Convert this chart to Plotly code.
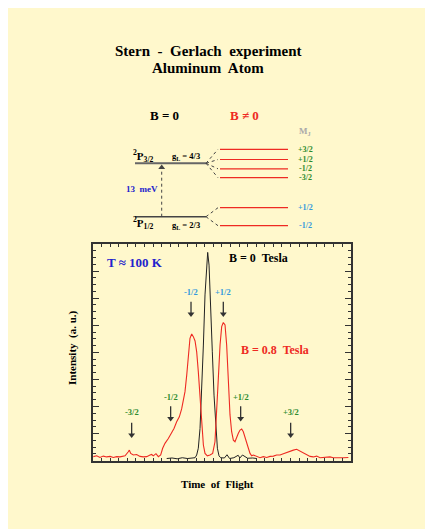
import plotly.graph_objects as go

# ---------------- data: time-of-flight spectra (arbitrary units) ----------------
tof_red = [0.04, 0.43, 0.81, 1.20, 1.59, 1.98, 2.37, 2.76, 3.14, 3.73, 4.11, 4.23, 4.39, 4.70,
           5.08, 5.47, 5.86, 6.25, 6.64, 6.83, 7.02, 7.33, 7.61, 7.88, 8.11, 8.38, 8.77, 9.16,
           9.43, 9.74, 10.05, 10.32, 10.52, 10.71, 10.91, 11.10, 11.29, 11.49, 11.68, 11.88,
           12.07, 12.26, 12.46, 12.65, 12.85, 13.04, 13.31, 13.62, 13.93, 14.20, 14.40, 14.59,
           14.79, 14.98, 15.17, 15.37, 15.56, 15.76, 15.95, 16.14, 16.34, 16.53, 16.73, 16.92,
           17.12, 17.31, 17.50, 17.70, 17.89, 18.09, 18.28, 18.47, 18.67, 19.06, 19.44, 19.83,
           20.22, 20.61, 21.00, 21.38, 21.77, 22.16, 22.55, 22.94, 23.33, 23.71, 24.10, 24.49,
           24.88, 25.27, 25.65, 26.04, 26.43, 26.82, 27.21, 27.59, 27.98, 28.37, 28.76, 29.15,
           29.73]
int_red = [0.15, 0.18, 0.12, 0.17, 0.14, 0.16, 0.12, 0.15, 0.14, 0.18, 0.33, 0.39, 0.27, 0.21,
           0.23, 0.16, 0.14, 0.15, 0.21, 0.23, 0.18, 0.26, 0.15, 0.21, 0.46, 0.64, 0.82, 1.01,
           1.19, 1.44, 1.62, 1.91, 2.18, 2.55, 3.16, 3.90, 4.52, 4.68, 4.58, 4.42,
           4.02, 3.29, 2.30, 1.32, 0.58, 0.27, 0.18, 0.21, 0.27, 0.70, 1.69, 3.04,
           4.27, 4.95, 5.10, 5.01, 4.27, 2.92, 1.69, 1.07, 0.76, 0.70, 0.89, 1.01,
           1.13, 1.17, 1.07, 0.89, 0.64, 0.46, 0.27, 0.18, 0.21, 0.15, 0.11, 0.15,
           0.12, 0.16, 0.17, 0.21, 0.21, 0.26, 0.31, 0.36, 0.39, 0.42, 0.36, 0.27,
           0.21, 0.16, 0.14, 0.17, 0.11, 0.12, 0.11, 0.14, 0.11, 0.12, 0.11, 0.11,
           0.12]

tof_black = [8.58, 9.20, 9.80, 10.40, 11.00, 11.50, 11.88, 12.07, 12.26, 12.46, 12.65, 12.85,
             13.04, 13.23, 13.35, 13.51, 13.70, 13.89, 14.09, 14.28, 14.48, 14.67, 14.86,
             15.30, 15.60, 15.90, 16.40, 16.90, 17.10, 17.40, 18.00, 18.60, 19.06]
int_black = [0.08, 0.10, 0.07, 0.11, 0.08, 0.10, 0.11, 0.21, 0.46, 1.19, 2.55, 4.27,
             6.12, 7.22, 7.69, 7.22, 5.87, 4.02, 2.42, 1.19, 0.46, 0.18, 0.11,
             0.10, 0.22, 0.08, 0.11, 0.20, 0.10, 0.21, 0.09, 0.10, 0.08]

# predicted arrival positions of the M_J components at B = 0.8 T
mj_labels = ["-3/2", "-1/2", "-1/2", "+1/2", "+1/2", "+3/2"]
mj_tof = [4.50, 9.04, 11.41, 15.17, 17.19, 23.01]
mj_level = ["upper", "upper", "lower", "lower", "upper", "upper"]

# energy-level diagram content
upper_mj = ["+3/2", "+1/2", "-1/2", "-3/2"]
lower_mj = ["+1/2", "-1/2"]

# ---------------- style / layout constants ----------------
FONT = "Liberation Serif, Times New Roman, serif"
RED = "#ee2a22"
GREEN = "#2e8b2e"
CYAN = "#3399dd"
BLUE = "#2222cc"
YELLOW = "#fff8cc"
W, H = 425, 529

PX0, PX1, PY0, PY1 = 93, 350.7, 244, 460.7   # plot frame in pixels
ARROW_LEN = 0.55                              # arrow length in y units (~15 px)

fig = go.Figure()

# background panel
fig.add_shape(type="rect", xref="paper", yref="paper", x0=8 / W, x1=1, y0=0, y1=1 - 8 / H,
              fillcolor=YELLOW, line_width=0, layer="below")

# spectra
fig.add_trace(go.Scatter(x=tof_black, y=int_black, mode="lines",
                         line=dict(color="#222222", width=1), xaxis="x", yaxis="y",
                         hoverinfo="skip"))
fig.add_trace(go.Scatter(x=tof_red, y=int_red, mode="lines",
                         line=dict(color=RED, width=1.1), xaxis="x", yaxis="y",
                         hoverinfo="skip"))

annotations = []

def txt(x, y, s, size, color="black", xref="x2", yref="y2", xanchor="center", angle=0):
    annotations.append(dict(x=x, y=y, xref=xref, yref=yref, text=s, showarrow=False,
                            xanchor=xanchor, yanchor="middle", textangle=angle,
                            font=dict(family=FONT, size=size, color=color)))

# arrows and labels in the spectrum
for lab, t, lev in zip(mj_labels, mj_tof, mj_level):
    col = CYAN if lev == "lower" else GREEN
    if lev == "lower":
        tip, ly = 5.32, 6.22
    elif lab in ("-3/2", "+3/2"):
        tip, ly = 0.85, 1.78
    else:
        tip, ly = 1.46, 2.34
    fig.add_trace(go.Scatter(x=[t, t], y=[tip + ARROW_LEN, tip + 0.12], mode="lines",
                             line=dict(color="#333333", width=1.3), xaxis="x", yaxis="y",
                             hoverinfo="skip"))
    fig.add_trace(go.Scatter(x=[t], y=[tip + 0.1], mode="markers",
                             marker=dict(symbol="triangle-down", size=6, color="#333333"),
                             xaxis="x", yaxis="y", hoverinfo="skip"))
    txt(t, ly, "<b>" + lab + "</b>", 8.5, col, xref="x", yref="y")

txt(4.93, 7.31, "<b>T \u2248 100 K</b>", 13, BLUE, xref="x", yref="y")
txt(15.56, 7.47, "<b>B = 0  Tesla</b>", 12, "black", xref="x", yref="y", xanchor="left")
txt(17.04, 4.09, "<b>B = 0.8  Tesla</b>", 12, RED, xref="x", yref="y", xanchor="left")

# axis titles
txt(72, 348, "<b>Intensity  (a. u.)</b>", 11, "black", angle=-90)
txt(217, 484, "<b>Time  of  Flight</b>", 11, "black")

# title
txt(208, 51, "<b>Stern  -  Gerlach  experiment</b>", 15)
txt(208, 68, "<b>Aluminum  Atom</b>", 15)

# ---------------- energy level diagram (pixel-like coordinates on x2/y2) ----------------
upper_y, lower_y = 163.3, 216.7
upper_sub_y = [149.3, 159.5, 168.8, 177.7]
lower_sub_y = [207.7, 225.7]
lvl_x0, lvl_x1 = 135, 206
sub_x0, sub_x1 = 220, 288
lab_x = 305

fig.add_trace(go.Scatter(x=[lvl_x0, lvl_x1], y=[upper_y, upper_y], mode="lines",
                         line=dict(color="#666666", width=2), xaxis="x2", yaxis="y2",
                         hoverinfo="skip"))
fig.add_trace(go.Scatter(x=[lvl_x0, lvl_x1], y=[lower_y, lower_y], mode="lines",
                         line=dict(color="#444444", width=1.6), xaxis="x2", yaxis="y2",
                         hoverinfo="skip"))
for base, subs in ((upper_y, upper_sub_y), (lower_y, lower_sub_y)):
    for sy in subs:
        fig.add_trace(go.Scatter(x=[lvl_x1, 218], y=[base, sy], mode="lines",
                                 line=dict(color="#444444", width=1, dash="dot"),
                                 xaxis="x2", yaxis="y2", hoverinfo="skip"))
        fig.add_trace(go.Scatter(x=[sub_x0, sub_x1], y=[sy, sy], mode="lines",
                                 line=dict(color=RED, width=1.2),
                                 xaxis="x2", yaxis="y2", hoverinfo="skip"))
# 13 meV transition arrow
fig.add_trace(go.Scatter(x=[161.7, 161.7], y=[lower_y, 168], mode="lines",
                         line=dict(color="#444444", width=1, dash="dot"),
                         xaxis="x2", yaxis="y2", hoverinfo="skip"))
fig.add_trace(go.Scatter(x=[161.7], y=[167.5], mode="markers",
                         marker=dict(symbol="triangle-up", size=6, color="#444444"),
                         xaxis="x2", yaxis="y2", hoverinfo="skip"))

txt(164, 115, "<b>B = 0</b>", 13)
txt(244.5, 115, "<b>B \u2260 0</b>", 13, RED)
txt(lab_x, 131, "<b>M<sub>J</sub></b>", 9, "#aaaaaa")
txt(143, 156, "<b><sup>2</sup>P<sub>3/2</sub></b>", 11)
txt(186, 156, "<b>g<sub>L</sub> = 4/3</b>", 8.5)
txt(143, 223, "<b><sup>2</sup>P<sub>1/2</sub></b>", 11)
txt(186, 225, "<b>g<sub>L</sub> = 2/3</b>", 8.5)
txt(142, 189, "<b>13  meV</b>", 9, BLUE)
for lab, sy in zip(upper_mj, upper_sub_y):
    txt(lab_x, sy, "<b>" + lab + "</b>", 8, GREEN)
for lab, sy in zip(lower_mj, lower_sub_y):
    txt(lab_x, sy, "<b>" + lab + "</b>", 8, CYAN)

fig.update_layout(
    width=W, height=H, margin=dict(l=0, r=0, t=0, b=0),
    paper_bgcolor="white", plot_bgcolor="rgba(0,0,0,0)",
    showlegend=False, annotations=annotations,
    xaxis=dict(domain=[PX0 / W, PX1 / W], range=[0, 30], anchor="y",
               showgrid=False, zeroline=False, showticklabels=False,
               showline=True, linecolor="#333333", linewidth=1.5, mirror="ticks",
               ticks="inside", dtick=1, ticklen=3, tickcolor="#333333", tickwidth=1),
    yaxis=dict(domain=[(H - PY1) / H, (H - PY0) / H], range=[0, 8], anchor="x",
               showgrid=False, zeroline=False, showticklabels=False,
               showline=True, linecolor="#333333", linewidth=1.5, mirror="ticks",
               ticks="inside", dtick=1, ticklen=6, tickcolor="#333333", tickwidth=1,
               minor=dict(ticks="inside", dtick=0.25, ticklen=3, tickcolor="#333333")),
    xaxis2=dict(domain=[0, 1], range=[0, W], anchor="y2", visible=False),
    yaxis2=dict(domain=[0, 1], range=[H, 0], anchor="x2", visible=False),
)

fig.write_html("out.html")
